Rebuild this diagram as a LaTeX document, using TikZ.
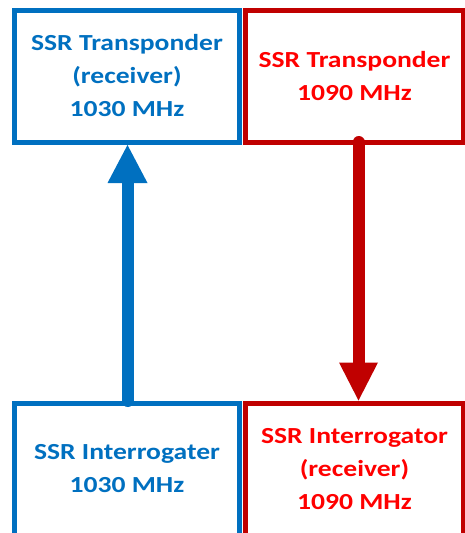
\documentclass[tikz,border=0pt]{standalone}
\usepackage{fontspec}
\setmainfont{Carlito}[FakeStretch=1.2]
\usetikzlibrary{calc}
\definecolor{ablue}{HTML}{0070C0}
\definecolor{dred}{HTML}{C00000}
\definecolor{bred}{HTML}{FF0000}
\tikzset{
  box/.style={draw, line width=5pt, rectangle, inner sep=0pt, outer sep=0pt,
    minimum height=132pt, align=center, fill=white,
    font=\fontsize{23pt}{33pt}\selectfont\bfseries},
  bluebox/.style={box, draw=ablue, text=ablue, minimum width=225pt},
  redbox/.style={box, draw=dred, text=bred, minimum width=218pt},
  shaft/.style={line width=12pt, line cap=round},
}
\begin{document}
\begin{tikzpicture}[x=1pt,y=1pt]
\useasboundingbox (0,0) rectangle (464,-533);
\node[bluebox] (tl) at (127,-76) {SSR Transponder\\(receiver)\\1030 MHz};
\node[redbox] (tr) at (354.5,-76) {SSR Transponder\\1090 MHz};
\node[bluebox] (bl) at (127,-469) {SSR Interrogater\\1030 MHz};
\node[redbox] (br) at (354.5,-469) {SSR Interrogator\\(receiver)\\1090 MHz};
% blue arrow (up)
\coordinate (bx) at (127.5,0);
\draw[shaft, ablue] ($(bl.north -| bx)+(0,2)$) -- ($(tl.south -| bx)+(0,-40)$);
\fill[ablue] ($(tl.south -| bx)+(0,-3)$) -- ++(-20,-38) -- ++(40,0) -- cycle;
% red arrow (down)
\coordinate (rx) at (358.5,0);
\draw[shaft, dred] (tr.south -| rx) -- ($(br.north -| rx)+(0,40)$);
\fill[dred] ($(br.north -| rx)+(0,2.5)$) -- ++(-19.5,38) -- ++(39,0) -- cycle;
\end{tikzpicture}
\end{document}
